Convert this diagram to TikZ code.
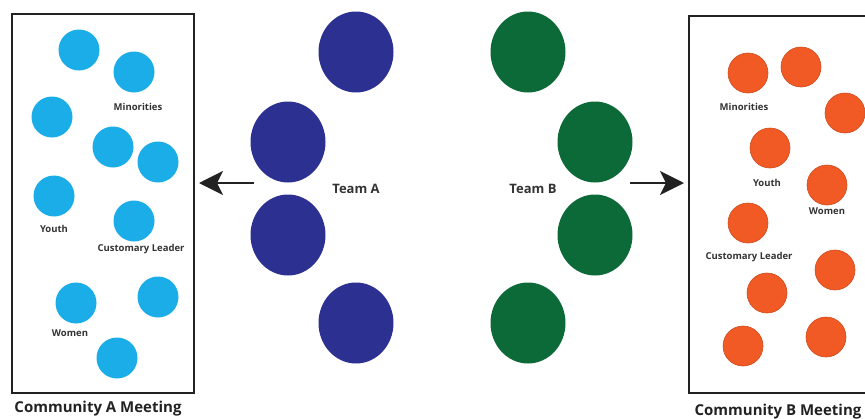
\documentclass[tikz,border=0pt]{standalone}
\usepackage{fontspec}
\setmainfont{Open Sans}
\usepackage{xcolor}
\usepackage{tikz}
\usetikzlibrary{arrows.meta,positioning,shapes.geometric}
\definecolor{ink}{HTML}{222222}
\definecolor{labelgray}{HTML}{333333}
\definecolor{skyblue}{HTML}{1AADE8}
\definecolor{navy}{HTML}{2C3090}
\definecolor{forest}{HTML}{0C6A38}
\definecolor{tangerine}{HTML}{F15A24}
\tikzset{
  meeting/.style={rectangle, draw=ink, line width=2pt, minimum width=182pt, minimum height=379pt, inner sep=0pt},
  memberA/.style={circle, fill=skyblue, minimum size=41pt, inner sep=0pt},
  memberB/.style={circle, fill=tangerine, draw=tangerine!85!black, line width=0.6pt, minimum size=40pt, inner sep=0pt},
  teamA/.style={ellipse, fill=navy, minimum width=75pt, minimum height=81pt, inner sep=0pt},
  teamB/.style={ellipse, fill=forest, minimum width=75pt, minimum height=81pt, inner sep=0pt},
  tag/.style={text=labelgray, font=\fontsize{9.5}{11}\selectfont\bfseries, inner sep=0pt},
  teamlabel/.style={text=labelgray, font=\fontsize{13}{15}\selectfont\bfseries, inner sep=0pt},
  caption/.style={text=ink, font=\fontsize{15}{17}\selectfont\bfseries, inner sep=0pt},
  arrow/.style={-{Stealth[length=24pt, width=24pt, inset=6pt]}, line width=2.2pt, draw=ink}
}
\begin{document}
\begin{tikzpicture}[x=1pt, y=-1pt]
  \useasboundingbox (0,0) rectangle (865,418);
  \clip (0,0) rectangle (865,418);

  % community A
  \node[meeting] (boxA) at (103,203.5) {};
  \node[memberA] (a1) at (79,50) {};
  \node[memberA] (a2) at (134,72) {};
  \node[memberA] (a3) at (52,117) {};
  \node[memberA] (a4) at (113,147) {};
  \node[memberA] (a5) at (158,162) {};
  \node[memberA] (a6) at (54,196) {};
  \node[memberA] (a7) at (134,221) {};
  \node[memberA] (a8) at (158,297) {};
  \node[memberA] (a9) at (76,303) {};
  \node[memberA] (a10) at (117,358) {};
  \node[tag] (minA) at (138,107) {Minorities};
  \node[tag] (youthA) at (54,229) {Youth};
  \node[tag] (leaderA) at (141,249) {Customary Leader};
  \node[tag] (womenA) at (70,333) {Women};
  \node[caption] (capA) at (98,409) {Community A Meeting};

  % teams
  \node[teamA] (ta1) at (356,52) {};
  \node[teamA] (ta2) at (288,142) {};
  \node[teamA] (ta3) at (288,235) {};
  \node[teamA] (ta4) at (356,323) {};
  \node[teamlabel] (labA) at (356,189) {Team A};
  \node[teamB] (tb1) at (528,52) {};
  \node[teamB] (tb2) at (595,142) {};
  \node[teamB] (tb3) at (595,235) {};
  \node[teamB] (tb4) at (528,323) {};
  \node[teamlabel] (labB) at (533,189) {Team B};

  % community B
  \node[meeting, minimum width=181pt, minimum height=377pt] (boxB) at (779.5,204.5) {};
  \node[memberB] (b1) at (748,73) {};
  \node[memberB] (b2) at (801,67) {};
  \node[memberB] (b3) at (845,113) {};
  \node[memberB] (b4) at (770,148) {};
  \node[memberB] (b5) at (827,185) {};
  \node[memberB] (b6) at (748,223) {};
  \node[memberB] (b7) at (835,270) {};
  \node[memberB] (b8) at (767,293) {};
  \node[memberB] (b9) at (743,346) {};
  \node[memberB] (b10) at (826,337) {};
  \node[tag] (minB) at (744,107) {Minorities};
  \node[tag] (youthB) at (767,183) {Youth};
  \node[tag] (womenB) at (827,211) {Women};
  \node[tag] (leaderB) at (749,257) {Customary Leader};
  \node[caption] (capB) at (778,412) {Community B Meeting};

  % dispatch arrows
  \coordinate (fromA) at (254,183);
  \coordinate (fromB) at (630,183);
  \draw[arrow] (fromA) -- ([xshift=4pt]fromA -| boxA.east);
  \draw[arrow] (fromB) -- ([xshift=-4pt]fromB -| boxB.west);
\end{tikzpicture}
\end{document}
